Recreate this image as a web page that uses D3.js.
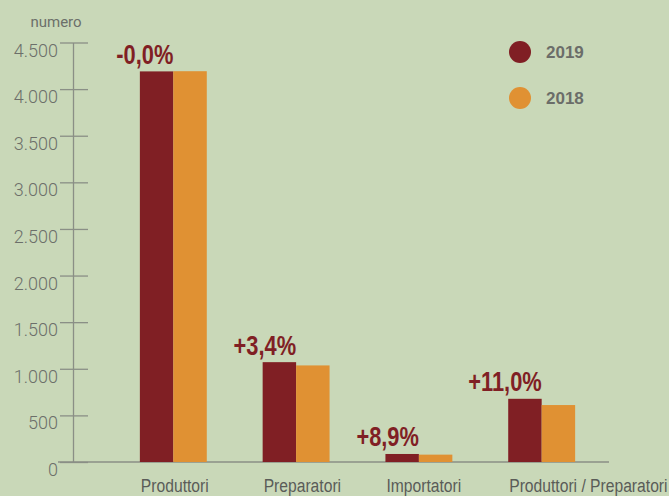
<!DOCTYPE html>
<html>
<head>
<meta charset="utf-8">
<script src="https://cdn.jsdelivr.net/npm/d3@7"></script>
<style>
  html, body { margin: 0; padding: 0; background: #c9d8b8; overflow: hidden; }
</style>
</head>
<body>
<div id="chart"></div>
<script>
// numero di operatori per categoria, 2019 vs 2018
var categories = ["Produttori", "Preparatori", "Importatori", "Produttori / Preparatori"];
var years = ["2019", "2018"];
var values2019 = [4190, 1071, 86, 678];
var values2018 = [4192, 1036, 79, 611];
var changes = ["-0,0%", "+3,4%", "+8,9%", "+11,0%"];
var yTicks = [0, 500, 1000, 1500, 2000, 2500, 3000, 3500, 4000, 4500];
var colors = ["#801f24", "#e09133"];

(function() {
    var width = 669, height = 496;
    var svg = d3.select("#chart").append("svg")
        .attr("width", width)
        .attr("height", height);

    var it = d3.formatLocale({ decimal: ",", thousands: ".", grouping: [3], currency: ["", "€"] });
    var fmt = it.format(",");

    var x0 = d3.scaleBand().domain(categories).range([84, 631]).padding(0.455);
    var x1 = d3.scaleBand().domain(years).range([0, x0.bandwidth()]);
    var y = d3.scaleLinear().domain([0, 4500]).range([462, 42.5]);
    var color = d3.scaleOrdinal().domain(years).range(colors);

    // x baseline
    svg.append("line")
        .attr("x1", 58).attr("x2", 609)
        .attr("y1", y(0)).attr("y2", y(0))
        .style("stroke", "#8a8f86").style("stroke-width", 1.3);

    // y axis
    var yAxis = svg.append("g")
        .attr("transform", "translate(73,0)")
        .call(d3.axisLeft(y).tickValues(yTicks).tickFormat(fmt).tickSizeOuter(0));
    yAxis.select(".domain").style("stroke", "#8a8f86").style("stroke-width", 1.3);
    yAxis.selectAll(".tick line")
        .attr("x1", -13).attr("x2", 15)
        .style("stroke", "#8a8f86").style("stroke-width", 1.3);
    yAxis.selectAll(".tick text")
        .attr("x", -15).attr("dy", null).attr("y", 13.5)
        .style("font-family", "Roboto, 'Liberation Sans', sans-serif")
        .style("font-weight", 300)
        .style("font-size", "18px")
        .style("fill", "#6c6f6a");

    svg.append("text")
        .attr("x", 56).attr("y", 27)
        .attr("text-anchor", "middle")
        .style("font-family", "Roboto, 'Liberation Sans', sans-serif")
        .style("font-size", "15px")
        .style("fill", "#6c6f6a")
        .text("numero");

    // bars
    var rows = categories.map(function(c, i) {
        return { cat: c, vals: [values2019[i], values2018[i]], change: changes[i] };
    });

    var groups = svg.selectAll("g.grp").data(rows).enter().append("g")
        .attr("class", "grp")
        .attr("transform", function(d) { return "translate(" + x0(d.cat) + ",0)"; });

    groups.selectAll("rect")
        .data(function(d) { return d.vals.map(function(v, j) { return { year: years[j], v: v }; }); })
        .enter().append("rect")
        .attr("x", function(d) { return x1(d.year); })
        .attr("y", function(d) { return y(d.v); })
        .attr("width", x1.bandwidth())
        .attr("height", function(d) { return y(0) - y(d.v); })
        .style("fill", function(d) { return color(d.year); });

    // variazione % (condensed look via horizontal scale)
    groups.append("g")
        .attr("transform", function(d) {
            return "translate(" + x1.bandwidth() + "," + (y(d.vals[0]) - 7.5) + ") scale(0.78,1)";
        })
        .append("text")
        .attr("text-anchor", "end")
        .style("font-family", "'Liberation Sans', Arial, sans-serif")
        .style("font-weight", "bold")
        .style("font-size", "28px")
        .style("fill", "#801f24")
        .text(function(d) { return d.change; });

    // category labels
    groups.append("g")
        .attr("transform", "translate(1,492) scale(0.87,1)")
        .append("text")
        .style("font-family", "'Liberation Sans', Arial, sans-serif")
        .style("font-size", "18px")
        .style("fill", "#5a5c58")
        .text(function(d) { return d.cat; });

    // legend
    var legend = svg.selectAll("g.leg").data(years).enter().append("g")
        .attr("class", "leg")
        .attr("transform", function(d, i) { return "translate(520," + (52 + i * 46) + ")"; });
    legend.append("circle")
        .attr("r", 11)
        .style("fill", function(d) { return color(d); });
    legend.append("text")
        .attr("x", 26).attr("y", 6)
        .style("font-family", "'Liberation Sans', sans-serif")
        .style("font-weight", "bold")
        .style("font-size", "17px")
        .style("fill", "#6b6d69")
        .text(function(d) { return d; });
})();
</script>
</body>
</html>
